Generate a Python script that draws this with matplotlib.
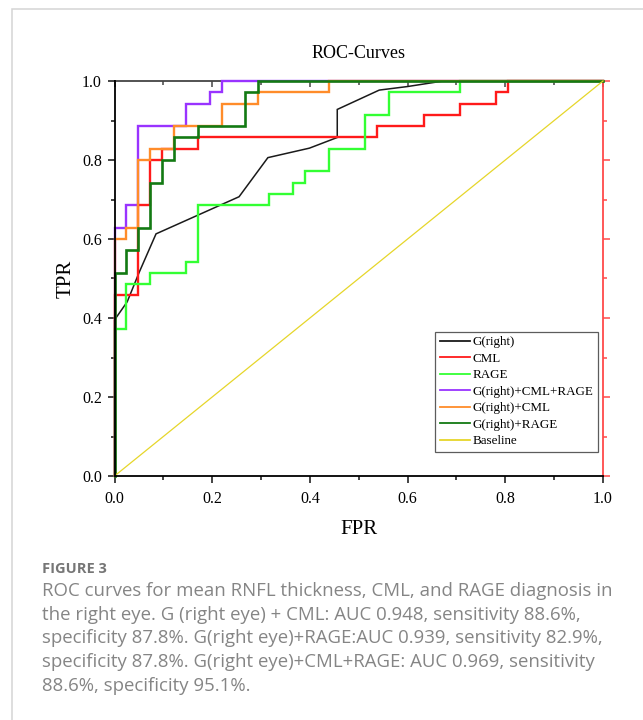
import matplotlib
matplotlib.use("Agg")
import matplotlib.pyplot as plt
from matplotlib.ticker import MultipleLocator
from matplotlib.patches import Rectangle

# --- data ---
g_fpr = [0, 0, 0.026, 0.051, 0.085, 0.255, 0.314, 0.399, 0.456, 0.456, 0.542, 0.600, 0.673, 1.0]
g_tpr = [0, 0.395, 0.441, 0.517, 0.613, 0.707, 0.806, 0.830, 0.857, 0.928, 0.977, 0.986, 1.0, 1.0]

cml_fpr = [0, 0, 0.049, 0.049, 0.073, 0.073, 0.098, 0.098, 0.171, 0.171, 0.537, 0.537,
           0.634, 0.634, 0.707, 0.707, 0.780, 0.780, 0.805, 0.805, 1.0]
cml_tpr = [0, 0.457, 0.457, 0.686, 0.686, 0.800, 0.800, 0.829, 0.829, 0.857, 0.857, 0.886,
           0.886, 0.914, 0.914, 0.943, 0.943, 0.971, 0.971, 1.0, 1.0]

rage_fpr = [0, 0, 0.024, 0.024, 0.073, 0.073, 0.146, 0.146, 0.171, 0.171, 0.317, 0.317,
            0.366, 0.366, 0.390, 0.390, 0.439, 0.439, 0.512, 0.512, 0.561, 0.561, 0.707, 0.707, 1.0]
rage_tpr = [0, 0.371, 0.371, 0.486, 0.486, 0.514, 0.514, 0.543, 0.543, 0.686, 0.686, 0.714,
            0.714, 0.743, 0.743, 0.771, 0.771, 0.829, 0.829, 0.914, 0.914, 0.971, 0.971, 1.0, 1.0]

all3_fpr = [0, 0, 0.024, 0.024, 0.049, 0.049, 0.146, 0.146, 0.195, 0.195, 0.220, 0.220, 1.0]
all3_tpr = [0, 0.629, 0.629, 0.686, 0.686, 0.886, 0.886, 0.943, 0.943, 0.971, 0.971, 1.0, 1.0]

gcml_fpr = [0, 0, 0.024, 0.024, 0.049, 0.049, 0.073, 0.073, 0.122, 0.122, 0.220, 0.220,
            0.293, 0.293, 0.439, 0.439, 1.0]
gcml_tpr = [0, 0.600, 0.600, 0.629, 0.629, 0.800, 0.800, 0.829, 0.829, 0.886, 0.886, 0.943,
            0.943, 0.971, 0.971, 1.0, 1.0]

grage_fpr = [0, 0, 0.024, 0.024, 0.049, 0.049, 0.073, 0.073, 0.098, 0.098, 0.122, 0.122,
             0.171, 0.171, 0.268, 0.268, 0.293, 0.293, 1.0]
grage_tpr = [0, 0.514, 0.514, 0.571, 0.571, 0.629, 0.629, 0.743, 0.743, 0.800, 0.800, 0.857,
             0.857, 0.886, 0.886, 0.971, 0.971, 1.0, 1.0]

base_fpr = [0, 1]
base_tpr = [0, 1]

curves = [
    ("G(right)", g_fpr, g_tpr, "#1a1a1a", 1.1),
    ("CML", cml_fpr, cml_tpr, "#ff1a1a", 1.7),
    ("RAGE", rage_fpr, rage_tpr, "#33ff33", 1.7),
    ("G(right)+CML+RAGE", all3_fpr, all3_tpr, "#9933ff", 1.7),
    ("G(right)+CML", gcml_fpr, gcml_tpr, "#ff8c2a", 1.7),
    ("G(right)+RAGE", grage_fpr, grage_tpr, "#137a13", 1.9),
    ("Baseline", base_fpr, base_tpr, "#e6d62a", 0.9),
]

caption_lines = [
    "ROC curves for mean RNFL thickness, CML, and RAGE diagnosis in",
    "the right eye. G (right eye) + CML: AUC 0.948, sensitivity 88.6%,",
    "specificity 87.8%. G(right eye)+RAGE:AUC 0.939, sensitivity 82.9%,",
    "specificity 87.8%. G(right eye)+CML+RAGE: AUC 0.969, sensitivity",
    "88.6%, specificity 95.1%.",
]

serif = "Liberation Serif"
W, H = 643, 720

# --- figure ---
fig = plt.figure(figsize=(W / 100, H / 100), dpi=100)
fig.patches.append(Rectangle((12 / W, -0.1), 1.2, 1.1 - 9 / H, transform=fig.transFigure,
                             fill=False, edgecolor="#d4d4d4", linewidth=1.1))

ax = fig.add_axes([114.5 / W, 1 - 476 / H, (603 - 114.5) / W, (476 - 81) / H])

for label, x, y, color, lw in curves:
    ax.plot(x, y, color=color, linewidth=lw, label=label, clip_on=False,
            solid_joinstyle="miter")

ax.set_xlim(0, 1)
ax.set_ylim(0, 1)
ax.xaxis.set_major_locator(MultipleLocator(0.2))
ax.xaxis.set_minor_locator(MultipleLocator(0.1))
ax.yaxis.set_major_locator(MultipleLocator(0.2))
ax.yaxis.set_minor_locator(MultipleLocator(0.1))
ax.tick_params(which="major", direction="out", length=5, width=1.1, color="#111111",
               labelsize=11.5, pad=4)
ax.tick_params(which="minor", direction="out", length=3, width=1.1, color="#111111")
ax.tick_params(axis="x", pad=6)
for t in ax.get_xticklabels() + ax.get_yticklabels():
    t.set_fontfamily(serif)

ax.spines["top"].set_visible(False)
ax.spines["right"].set_visible(False)
ax.spines["left"].set_linewidth(1.3)
ax.spines["bottom"].set_linewidth(1.3)

# top axis: grey, ticks inward, no labels
top = ax.secondary_xaxis("top")
top.xaxis.set_major_locator(MultipleLocator(0.2))
top.xaxis.set_minor_locator(MultipleLocator(0.1))
top.tick_params(which="major", direction="in", length=4.5, width=1.1, color="#444444", labeltop=False)
top.tick_params(which="minor", direction="in", length=3, width=1.1, color="#444444")
top.spines["top"].set_color("#444444")
top.spines["top"].set_linewidth(1.3)

# right axis: red, ticks outward, no labels
right = ax.secondary_yaxis("right")
right.yaxis.set_major_locator(MultipleLocator(0.2))
right.yaxis.set_minor_locator(MultipleLocator(0.1))
right.tick_params(which="major", direction="out", length=5, width=1.1, color="#ff4a4a", labelright=False)
right.tick_params(which="minor", direction="out", length=3, width=1.1, color="#ff4a4a")
right.spines["right"].set_color("#ff4a4a")
right.spines["right"].set_linewidth(1.3)

ax.set_xlabel("FPR", fontfamily=serif, fontsize=15, labelpad=9)
ax.set_ylabel("TPR", fontfamily=serif, fontsize=15, labelpad=5)
fig.text(358.8 / W, 1 - 53 / H, "ROC-Curves", fontfamily=serif, fontsize=13,
         ha="center", va="center")

leg = ax.legend(loc="lower right", bbox_to_anchor=(0.990, 0.0615), borderaxespad=0,
                prop={"family": serif, "size": 9.4}, frameon=True, fancybox=False,
                edgecolor="#333333", handlelength=2.3, handletextpad=0.2,
                labelspacing=0.33, borderpad=0.35)
leg.get_frame().set_linewidth(0.9)
for line in leg.get_lines():
    line.set_linewidth(1.3)

# --- caption ---
fig.text(42 / W, 1 - 572.7 / H, "FIGURE 3", fontfamily="Open Sans", fontweight="bold",
         fontsize=10.5, color="#767676", va="baseline")
for i, line in enumerate(caption_lines):
    fig.text(42 / W, 1 - (595.7 + 23.8 * i) / H, line, fontfamily="Open Sans",
             fontsize=13.4, color="#858585", va="baseline")

fig.savefig("out.png", dpi=100)
plt.close(fig)
